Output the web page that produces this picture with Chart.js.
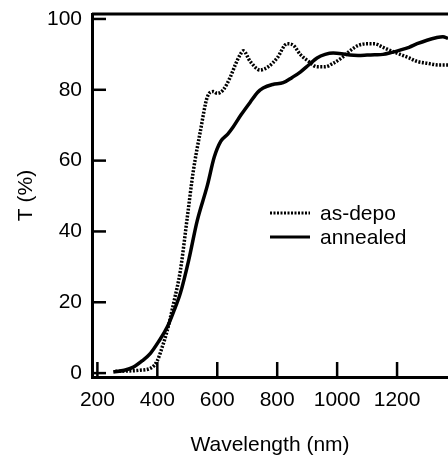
<!DOCTYPE html>
<html>
<head>
<meta charset="utf-8">
<script src="https://cdn.jsdelivr.net/npm/chart.js@4.4.1/dist/chart.umd.min.js"></script>
<style>
  html, body { margin: 0; padding: 0; background: #fff; }
  #wrap { width: 448px; height: 455px; }
</style>
</head>
<body>
<div id="wrap"><canvas id="transChart" width="448" height="455"></canvas></div>
<script>
// wavelength (nm) / transmittance (%)
var asDepoWl = [260, 300, 340, 380, 400, 415, 433, 455, 477, 500, 520, 543, 567, 587, 600, 620, 643, 660, 677, 687, 710, 743, 770, 800, 833, 855, 877, 905, 933, 960, 987, 1015, 1043, 1070, 1100, 1125, 1153, 1180, 1210, 1240, 1267, 1300, 1340, 1370];
var asDepoT  = [0.5, 0.6, 0.8, 1.5, 3.5, 7, 12, 20, 29, 44, 57, 68, 78, 79.5, 79, 80, 83.5, 87, 90, 91, 88, 85.6, 86.5, 89, 93, 92.5, 90, 88, 86.5, 86.5, 87.5, 89, 91, 92.5, 93, 93, 92, 91, 90, 89, 88, 87.5, 87, 87];
var annealWl = [253, 290, 320, 350, 377, 405, 433, 455, 477, 505, 533, 567, 590, 612, 635, 653, 680, 710, 735, 753, 785, 820, 850, 877, 905, 933, 960, 987, 1015, 1043, 1070, 1100, 1125, 1153, 1180, 1210, 1240, 1267, 1300, 1330, 1353, 1370];
var annealT  = [0.3, 0.8, 1.7, 3.5, 5.6, 9, 13, 17.5, 22.6, 32, 43, 53, 61, 65.5, 67.5, 69.5, 73, 76.5, 79.3, 80.5, 81.5, 82, 83.5, 85, 87, 89, 90, 90.4, 90.2, 89.8, 89.7, 89.8, 89.9, 90, 90.5, 91.2, 92, 93, 94, 94.7, 95, 94.5];
var xTicks = [200, 400, 600, 800, 1000, 1200];
var yTicks = [0, 20, 40, 60, 80, 100];

function pairs(xs, ys) {
    return xs.map(function (x, i) { return { x: x, y: ys[i] }; });
}

var fontFam = '"Liberation Sans", Arial, Helvetica, sans-serif';
var fontSize = 21;

// inward tick marks, top border line, and the little legend inside the plot
var frameBits = {
    id: 'frameBits',
    afterDraw: function (chart) {
        var c = chart.ctx, a = chart.chartArea;
        var xs = chart.scales.x, ys = chart.scales.y;
        c.save();
        c.strokeStyle = '#000';
        c.lineWidth = 3;
        c.beginPath();
        c.moveTo(a.left, a.top);
        c.lineTo(a.right, a.top);
        c.stroke();
        c.lineWidth = 2.5;
        yTicks.forEach(function (v) {
            var py = ys.getPixelForValue(v);
            c.beginPath();
            c.moveTo(a.left, py);
            c.lineTo(a.left + 14, py);
            c.stroke();
        });
        xTicks.forEach(function (v) {
            var px = xs.getPixelForValue(v);
            c.beginPath();
            c.moveTo(px, a.bottom);
            c.lineTo(px, a.bottom - 15);
            c.stroke();
        });
        // legend
        c.font = fontSize + 'px ' + fontFam;
        c.fillStyle = '#000';
        c.textBaseline = 'middle';
        chart.data.datasets.forEach(function (ds, i) {
            var ly = 213 + i * 24;
            c.lineWidth = 3;
            c.setLineDash(ds.borderDash || []);
            c.beginPath();
            c.moveTo(270, ly);
            c.lineTo(310, ly);
            c.stroke();
            c.setLineDash([]);
            c.fillText(ds.label, 320, ly + 1);
        });
        c.restore();
    }
};

var ctx = document.getElementById('transChart').getContext('2d');
var trans_chart = new Chart(ctx, {
    type: 'line',
    data: {
        datasets: [{
            label: 'as-depo',
            data: pairs(asDepoWl, asDepoT),
            borderColor: '#000',
            borderWidth: 3.5,
            borderDash: [2, 1.5],
            pointRadius: 0,
            cubicInterpolationMode: 'monotone',
            fill: false
        }, {
            label: 'annealed',
            data: pairs(annealWl, annealT),
            borderColor: '#000',
            borderWidth: 3.5,
            pointRadius: 0,
            cubicInterpolationMode: 'monotone',
            fill: false
        }]
    },
    options: {
        responsive: false,
        animation: false,
        layout: { padding: { top: 14, right: 0, left: 0, bottom: 0 } },
        plugins: {
            legend: { display: false },
            tooltip: { enabled: false }
        },
        scales: {
            x: {
                type: 'linear',
                min: 182,
                max: 1370,
                afterBuildTicks: function (s) { s.ticks = xTicks.map(function (v) { return { value: v }; }); },
                afterFit: function (s) { s.height = 78; },
                grid: { display: false, drawTicks: false },
                border: { display: true, color: '#000', width: 3 },
                ticks: {
                    color: '#000', padding: 11, maxRotation: 0,
                    font: { family: fontFam, size: fontSize },
                    callback: function (v) { return String(v); }
                },
                title: {
                    display: true,
                    text: 'Wavelength (nm)',
                    color: '#000',
                    font: { family: fontFam, size: fontSize },
                    padding: { top: 0, bottom: -3 }
                }
            },
            y: {
                min: -1.1,
                max: 101.4,
                afterBuildTicks: function (s) { s.ticks = yTicks.map(function (v) { return { value: v }; }); },
                afterFit: function (s) { s.width = 92; s.paddingTop = 0; s.paddingBottom = 0; },
                grid: { display: false, drawTicks: false },
                border: { display: true, color: '#000', width: 3 },
                ticks: { color: '#000', padding: 10, font: { family: fontFam, size: fontSize } },
                title: {
                    display: true,
                    text: 'T (%)',
                    color: '#000',
                    font: { family: fontFam, size: fontSize },
                    padding: { top: 14, bottom: 0 }
                }
            }
        }
    },
    plugins: [frameBits]
});
</script>
</body>
</html>
